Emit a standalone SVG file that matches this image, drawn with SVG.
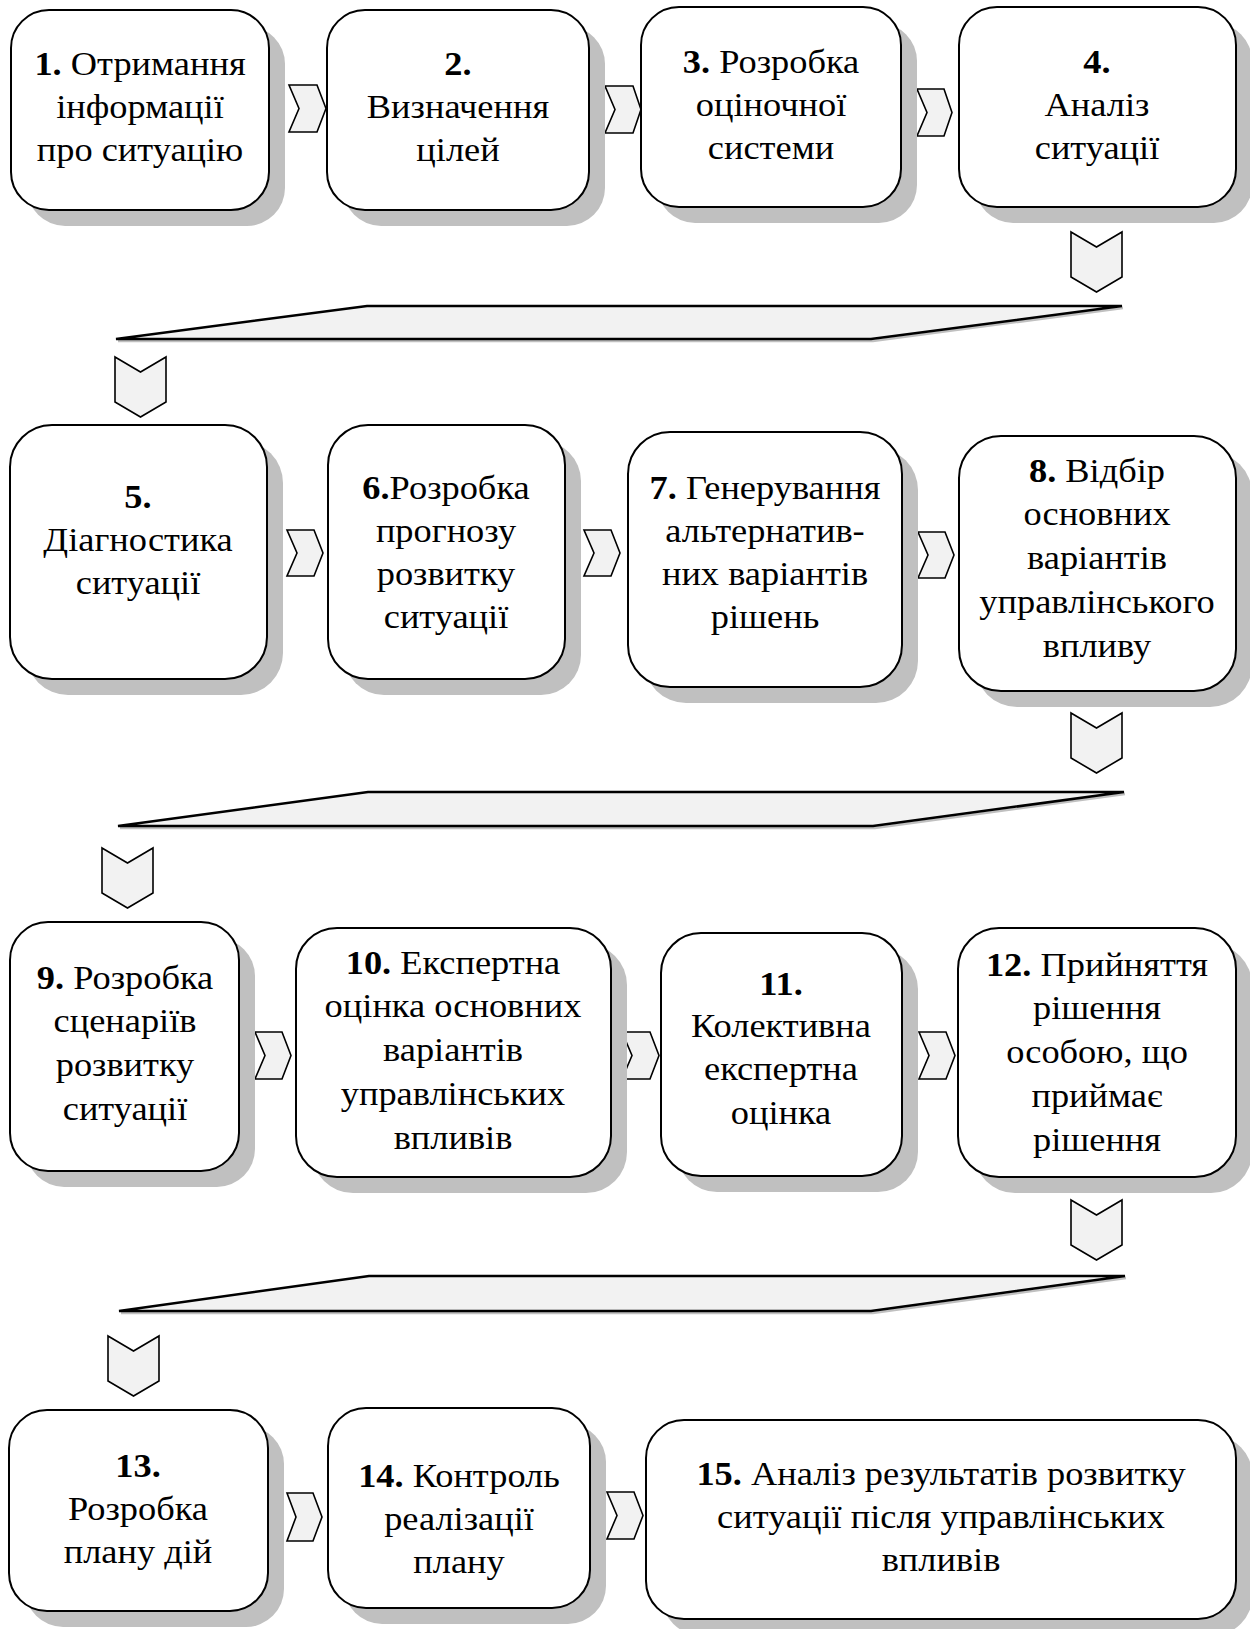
<svg xmlns="http://www.w3.org/2000/svg" width="1250" height="1629" viewBox="0 0 1250 1629">
<defs>
<style>
.box{fill:#ffffff;stroke:#000000;stroke-width:2}
.shadow{fill:#c0c0c0;stroke:none}
.chev{fill:#f2f2f2;stroke:#000000;stroke-width:1.6;stroke-linejoin:miter}
.para{fill:#f2f2f2;stroke:#000000;stroke-width:2.5;stroke-linejoin:miter}
.parash{fill:none;stroke:#c0c0c0;stroke-width:2.5}
text{font-family:"Liberation Serif","Times New Roman",serif;font-size:34px;fill:#000000;text-anchor:middle}
.b{font-weight:bold}
</style>
</defs>
<rect width="1250" height="1629" fill="#ffffff"/>

<g id="connectors">
<polygon class="chev" points="289,85 317,85 326,108.5 317,132 289,132 299,108.5"/>
<polygon class="chev" points="605,86 633,86 641,109.5 633,133 605,133 615,109.5"/>
<polygon class="chev" points="917,89 944,89 952,112.5 944,136 917,136 927,112.5"/>
<polygon class="chev" points="287,530 314,530 323,553 314,576 287,576 297,553"/>
<polygon class="chev" points="584,530 611,530 620,553 611,576 584,576 594,553"/>
<polygon class="chev" points="918,532 945,532 954,555 945,578 918,578 928,555"/>
<polygon class="chev" points="255,1032 282,1032 291,1055.5 282,1079 255,1079 265,1055.5"/>
<polygon class="chev" points="622,1032 650,1032 659,1055.5 650,1079 622,1079 632,1055.5"/>
<polygon class="chev" points="919,1032 946,1032 955,1055.5 946,1079 919,1079 929,1055.5"/>
<polygon class="chev" points="287,1493 313,1493 322,1517 313,1541 287,1541 296,1517"/>
<polygon class="chev" points="607,1492 634,1492 643,1515.5 634,1539 607,1539 617,1515.5"/>
<polygon class="chev" points="1071,232 1096.5,247 1122,232 1122,277 1096.5,292 1071,277"/>
<polygon class="chev" points="115,357 140.5,372 166,357 166,402 140.5,417 115,402"/>
<polygon class="chev" points="1071,713 1096.5,728 1122,713 1122,758 1096.5,773 1071,758"/>
<polygon class="chev" points="102,848 127.5,863 153,848 153,893 127.5,908 102,893"/>
<polygon class="chev" points="1071,1200 1096.5,1215 1122,1200 1122,1245 1096.5,1260 1071,1245"/>
<polygon class="chev" points="108,1336 133.5,1351 159,1336 159,1381 133.5,1396 108,1381"/>
<polyline class="parash" points="118,341 873,341 1123,308"/>
<polygon class="para" points="367,306 1122,306 871,339 116,339"/>
<polyline class="parash" points="120,828 875,828 1125,794"/>
<polygon class="para" points="368,792 1124,792 873,826 118,826"/>
<polyline class="parash" points="121,1313 873,1313 1126,1278"/>
<polygon class="para" points="369,1276 1125,1276 871,1311 119,1311"/>
</g>

<g id="node1">
<rect class="shadow" x="27" y="26" width="258" height="200" rx="38"/>
<rect class="box" x="11" y="10" width="258" height="200" rx="38"/>
<text transform="translate(140 75) scale(1.07 1)"><tspan class="b">1.</tspan> Отримання</text>
<text transform="translate(140 118) scale(1.07 1)">інформації</text>
<text transform="translate(140 161) scale(1.07 1)">про ситуацію</text>
</g>

<g id="node2">
<rect class="shadow" x="343" y="26" width="262" height="200" rx="38"/>
<rect class="box" x="327" y="10" width="262" height="200" rx="38"/>
<text class="b" transform="translate(458 75) scale(1.07 1)">2.</text>
<text transform="translate(458 118) scale(1.07 1)">Визначення</text>
<text transform="translate(458 161) scale(1.07 1)">цілей</text>
</g>

<g id="node3">
<rect class="shadow" x="657" y="23" width="260" height="200" rx="38"/>
<rect class="box" x="641" y="7" width="260" height="200" rx="38"/>
<text transform="translate(771 73) scale(1.07 1)"><tspan class="b">3.</tspan> Розробка</text>
<text transform="translate(771 116) scale(1.07 1)">оціночної</text>
<text transform="translate(771 159) scale(1.07 1)">системи</text>
</g>

<g id="node4">
<rect class="shadow" x="975" y="23" width="277" height="200" rx="38"/>
<rect class="box" x="959" y="7" width="277" height="200" rx="38"/>
<text class="b" transform="translate(1097 73) scale(1.07 1)">4.</text>
<text transform="translate(1097 116) scale(1.07 1)">Аналіз</text>
<text transform="translate(1097 159) scale(1.07 1)">ситуації</text>
</g>

<g id="node5">
<rect class="shadow" x="26" y="441" width="257" height="254" rx="42"/>
<rect class="box" x="10" y="425" width="257" height="254" rx="42"/>
<text class="b" transform="translate(138 508) scale(1.07 1)">5.</text>
<text transform="translate(138 551) scale(1.07 1)">Діагностика</text>
<text transform="translate(138 594) scale(1.07 1)">ситуації</text>
</g>

<g id="node6">
<rect class="shadow" x="344" y="441" width="237" height="254" rx="40"/>
<rect class="box" x="328" y="425" width="237" height="254" rx="40"/>
<text transform="translate(446 499) scale(1.07 1)"><tspan class="b">6.</tspan>Розробка</text>
<text transform="translate(446 542) scale(1.07 1)">прогнозу</text>
<text transform="translate(446 585) scale(1.07 1)">розвитку</text>
<text transform="translate(446 628) scale(1.07 1)">ситуації</text>
</g>

<g id="node7">
<rect class="shadow" x="644" y="448" width="274" height="255" rx="42"/>
<rect class="box" x="628" y="432" width="274" height="255" rx="42"/>
<text transform="translate(765 499) scale(1.07 1)"><tspan class="b">7.</tspan> Генерування</text>
<text transform="translate(765 542) scale(1.07 1)">альтернатив-</text>
<text transform="translate(765 585) scale(1.07 1)">них варіантів</text>
<text transform="translate(765 628) scale(1.07 1)">рішень</text>
</g>

<g id="node8">
<rect class="shadow" x="975" y="452" width="277" height="255" rx="42"/>
<rect class="box" x="959" y="436" width="277" height="255" rx="42"/>
<text transform="translate(1097 482) scale(1.07 1)"><tspan class="b">8.</tspan> Відбір</text>
<text transform="translate(1097 525) scale(1.07 1)">основних</text>
<text transform="translate(1097 569) scale(1.07 1)">варіантів</text>
<text transform="translate(1097 613) scale(1.07 1)">управлінського</text>
<text transform="translate(1097 657) scale(1.07 1)">впливу</text>
</g>

<g id="node9">
<rect class="shadow" x="26" y="938" width="229" height="249" rx="38"/>
<rect class="box" x="10" y="922" width="229" height="249" rx="38"/>
<text transform="translate(125 989) scale(1.07 1)"><tspan class="b">9.</tspan> Розробка</text>
<text transform="translate(125 1032) scale(1.07 1)">сценаріїв</text>
<text transform="translate(125 1076) scale(1.07 1)">розвитку</text>
<text transform="translate(125 1120) scale(1.07 1)">ситуації</text>
</g>

<g id="node10">
<rect class="shadow" x="312" y="944" width="315" height="249" rx="41"/>
<rect class="box" x="296" y="928" width="315" height="249" rx="41"/>
<text transform="translate(453 974) scale(1.07 1)"><tspan class="b">10.</tspan> Експертна</text>
<text transform="translate(453 1017) scale(1.07 1)">оцінка основних</text>
<text transform="translate(453 1061) scale(1.07 1)">варіантів</text>
<text transform="translate(453 1105) scale(1.07 1)">управлінських</text>
<text transform="translate(453 1149) scale(1.07 1)">впливів</text>
</g>

<g id="node11">
<rect class="shadow" x="677" y="949" width="241" height="243" rx="40"/>
<rect class="box" x="661" y="933" width="241" height="243" rx="40"/>
<text class="b" transform="translate(781 995) scale(1.07 1)">11.</text>
<text transform="translate(781 1037) scale(1.07 1)">Колективна</text>
<text transform="translate(781 1080) scale(1.07 1)">експертна</text>
<text transform="translate(781 1124) scale(1.07 1)">оцінка</text>
</g>

<g id="node12">
<rect class="shadow" x="974" y="944" width="278" height="249" rx="41"/>
<rect class="box" x="958" y="928" width="278" height="249" rx="41"/>
<text transform="translate(1097 976) scale(1.07 1)"><tspan class="b">12.</tspan> Прийняття</text>
<text transform="translate(1097 1019) scale(1.07 1)">рішення</text>
<text transform="translate(1097 1063) scale(1.07 1)">особою, що</text>
<text transform="translate(1097 1107) scale(1.07 1)">приймає</text>
<text transform="translate(1097 1151) scale(1.07 1)">рішення</text>
</g>

<g id="node13">
<rect class="shadow" x="25" y="1426" width="259" height="201" rx="38"/>
<rect class="box" x="9" y="1410" width="259" height="201" rx="38"/>
<text class="b" transform="translate(138 1477) scale(1.07 1)">13.</text>
<text transform="translate(138 1520) scale(1.07 1)">Розробка</text>
<text transform="translate(138 1563) scale(1.07 1)">плану дій</text>
</g>

<g id="node14">
<rect class="shadow" x="344" y="1424" width="262" height="200" rx="38"/>
<rect class="box" x="328" y="1408" width="262" height="200" rx="38"/>
<text transform="translate(459 1487) scale(1.07 1)"><tspan class="b">14.</tspan> Контроль</text>
<text transform="translate(459 1530) scale(1.07 1)">реалізації</text>
<text transform="translate(459 1573) scale(1.07 1)">плану</text>
</g>

<g id="node15">
<rect class="shadow" x="662" y="1436" width="590" height="199" rx="38"/>
<rect class="box" x="646" y="1420" width="590" height="199" rx="38"/>
<text transform="translate(941 1485) scale(1.07 1)"><tspan class="b">15.</tspan> Аналіз результатів розвитку</text>
<text transform="translate(941 1528) scale(1.07 1)">ситуації після управлінських</text>
<text transform="translate(941 1571) scale(1.07 1)">впливів</text>
</g>
</svg>
